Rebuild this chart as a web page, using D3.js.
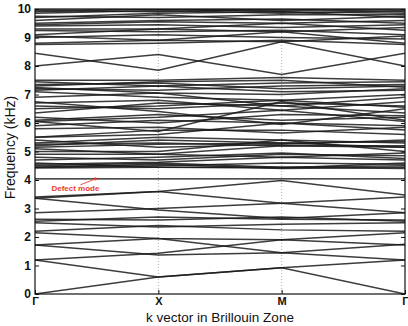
<!DOCTYPE html>
<html><head><meta charset="utf-8">
<script src="https://cdn.jsdelivr.net/npm/d3@7"></script>
<style>body{margin:0;background:#fff}</style>
</head><body>
<svg id="chart" width="408" height="326"></svg>
<script>
// k-path labels and tick values
const kLabels = ["Γ", "X", "M", "Γ"];
const yTicks = [0, 1, 2, 3, 4, 5, 6, 7, 8, 9, 10];
const xTitle = "k vector in Brillouin Zone";
const yTitle = "Frequency (kHz)";
const defectLabel = "Defect mode";

// band frequencies (kHz) at Γ, X, M, Γ
const lowerBands = [
  [0.00, 0.60, 0.92, 0.00],
  [1.19, 0.60, 0.92, 1.19],
  [1.19, 1.43, 1.90, 1.72],
  [1.72, 1.37, 1.45, 1.19],
  [1.72, 1.95, 1.45, 1.75],
  [2.15, 1.95, 1.90, 2.15],
  [2.20, 2.40, 2.25, 2.20],
  [2.50, 2.35, 2.45, 2.50],
  [2.55, 2.70, 2.62, 2.60],
  [2.62, 2.60, 2.70, 2.55],
  [3.36, 2.95, 2.65, 2.85],
  [2.85, 3.00, 3.18, 3.40],
  [3.36, 3.60, 3.18, 2.85],
  [3.40, 3.60, 3.98, 3.47]
];
const defectBand = [4.04, 4.04, 4.04, 4.04];
const upperBands = [
  [4.42, 4.45, 4.45, 4.40],
  [4.45, 4.55, 4.40, 4.45],
  [4.45, 4.50, 4.60, 4.55],
  [4.50, 4.60, 4.45, 4.50],
  [4.55, 4.62, 4.80, 4.70],
  [4.60, 4.45, 4.42, 4.60],
  [4.70, 4.80, 4.95, 4.75],
  [4.80, 4.70, 4.90, 4.85],
  [4.90, 4.90, 4.80, 4.95],
  [5.00, 5.00, 5.40, 5.00],
  [5.10, 4.90, 5.20, 5.15],
  [5.15, 5.25, 5.30, 5.15],
  [5.20, 5.40, 5.30, 5.35],
  [5.25, 5.30, 5.20, 5.20],
  [5.30, 5.50, 5.40, 5.30],
  [5.40, 5.15, 5.25, 5.40],
  [5.50, 5.60, 6.00, 5.75],
  [5.50, 5.75, 5.75, 5.60],
  [5.80, 5.85, 5.65, 5.85],
  [5.90, 6.10, 6.00, 5.90],
  [6.05, 6.20, 6.45, 6.05],
  [6.05, 5.70, 6.75, 6.10],
  [6.10, 6.30, 6.10, 6.20],
  [6.20, 6.00, 6.30, 6.25],
  [6.35, 6.70, 6.60, 6.35],
  [6.50, 6.60, 6.80, 6.55],
  [6.60, 6.50, 6.70, 6.60],
  [6.70, 6.80, 6.45, 6.75],
  [6.75, 6.40, 5.95, 6.50],
  [6.90, 7.05, 6.60, 6.90],
  [7.10, 6.90, 6.80, 7.00],
  [7.15, 7.30, 7.10, 7.15],
  [7.20, 7.15, 7.30, 7.35],
  [7.25, 7.05, 7.00, 7.20],
  [7.30, 7.45, 7.50, 7.25],
  [7.35, 7.40, 7.20, 7.30],
  [7.45, 7.30, 7.40, 7.45],
  [7.50, 7.50, 7.60, 7.50],
  [8.00, 8.40, 7.70, 8.45],
  [8.45, 7.85, 8.85, 8.00],
  [8.75, 8.80, 8.90, 8.75],
  [8.80, 8.90, 8.85, 9.05],
  [9.00, 9.10, 9.00, 8.95],
  [9.05, 8.90, 9.20, 8.80],
  [9.10, 9.30, 9.50, 9.25],
  [9.25, 9.20, 9.25, 9.10],
  [9.30, 9.30, 9.20, 9.35],
  [9.40, 9.45, 9.35, 9.45],
  [9.45, 9.55, 9.50, 9.60],
  [9.50, 9.60, 9.65, 9.50],
  [9.60, 9.80, 9.60, 9.75],
  [9.70, 9.85, 9.90, 9.70],
  [9.75, 9.70, 9.80, 9.80],
  [9.85, 9.95, 9.85, 9.95],
  [9.90, 10.0, 9.90, 9.85],
  [9.95, 9.90, 10.0, 9.90],
  [10.0, 10.0, 9.95, 10.0]
];

const svg = d3.select("#chart");
const L = 35, R = 405, T = 9, B = 294;
const x = d3.scaleLinear().domain([0, kLabels.length - 1]).range([L, R]);
const y = d3.scaleLinear().domain([0, 10]).range([B, T]);

svg.append("defs").append("clipPath").attr("id", "clip")
  .append("rect").attr("x", L).attr("y", T).attr("width", R - L).attr("height", B - T);

// dotted vertical grid at X and M
svg.append("g").selectAll("line").data([1, 2]).join("line")
  .attr("x1", d => x(d)).attr("x2", d => x(d)).attr("y1", T).attr("y2", B)
  .attr("stroke", "#999").attr("stroke-width", 0.8).attr("stroke-dasharray", "1,2");

const line = d3.line().x((d, i) => x(i)).y(d => y(d));
const g = svg.append("g").attr("clip-path", "url(#clip)");
g.selectAll("path.band").data(lowerBands.concat(upperBands)).join("path")
  .attr("class", "band").attr("d", line).attr("fill", "none")
  .attr("stroke", "#1a1a1a").attr("stroke-width", 1.5).attr("stroke-opacity", 0.85);
g.append("path").datum(defectBand).attr("d", line).attr("fill", "none")
  .attr("stroke", "#111").attr("stroke-width", 1.3);

// axes
const font = "'Liberation Sans', Arial, sans-serif";
const yAxis = svg.append("g").attr("transform", `translate(${L},0)`)
  .call(d3.axisLeft(y).tickValues(yTicks).tickSizeInner(-4).tickSizeOuter(0).tickPadding(4));
const yAxisR = svg.append("g").attr("transform", `translate(${R},0)`)
  .call(d3.axisRight(y).tickValues(yTicks).tickSizeInner(-4).tickSizeOuter(0).tickFormat(""));
const xAxis = svg.append("g").attr("transform", `translate(0,${B})`)
  .call(d3.axisBottom(x).tickValues(d3.range(kLabels.length)).tickFormat(i => kLabels[i])
    .tickSizeInner(-4).tickSizeOuter(0).tickPadding(3));
[yAxis, yAxisR, xAxis].forEach(a => {
  a.select(".domain").remove();
  a.selectAll("text").attr("font-family", font).attr("font-size", 12)
    .attr("font-weight", "bold").attr("fill", "#111");
  a.selectAll("line").attr("stroke", "#111");
});
xAxis.selectAll("text").attr("font-size", 11);

// frame
svg.append("rect").attr("x", L).attr("y", T).attr("width", R - L).attr("height", B - T)
  .attr("fill", "none").attr("stroke", "#111").attr("stroke-width", 1.2);

// titles
svg.append("text").attr("x", (L + R) / 2).attr("y", 322).attr("text-anchor", "middle")
  .attr("font-family", font).attr("font-size", 13.5).attr("fill", "#111").text(xTitle);
svg.append("text").attr("transform", `translate(15,${(T + B) / 2 - 4}) rotate(-90)`)
  .attr("text-anchor", "middle").attr("font-family", font).attr("font-size", 14)
  .attr("fill", "#111").text(yTitle);

// defect annotation
const tipX = x(0.49), tipY = y(defectBand[0]);
svg.append("line").attr("x1", tipX - 15).attr("y1", tipY + 6).attr("x2", tipX).attr("y2", tipY)
  .attr("stroke", "#e8412e").attr("stroke-width", 0.9);
svg.append("circle").attr("cx", tipX).attr("cy", tipY).attr("r", 1.6).attr("fill", "#e8412e");
svg.append("text").attr("x", tipX - 44).attr("y", tipY + 12)
  .attr("font-family", font).attr("font-size", 8).attr("font-weight", "bold")
  .attr("fill", "#e8412e").text(defectLabel);
</script>
</body></html>
